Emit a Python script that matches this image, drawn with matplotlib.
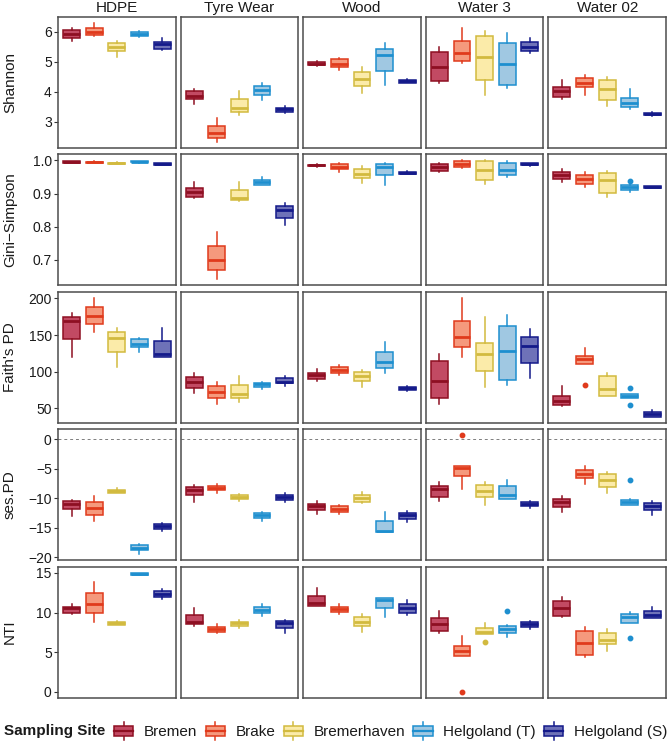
import matplotlib
matplotlib.use("Agg")
import matplotlib.pyplot as plt
import matplotlib.patches as mpatches
from matplotlib.legend_handler import HandlerBase
from matplotlib.lines import Line2D

# ── DATA (lo whisker, q1, median, q3, hi whisker) per site, per material ──
materials = ["HDPE", "Tyre Wear", "Wood", "Water 3", "Water 02"]
sites = ["Bremen", "Brake", "Bremerhaven", "Helgoland (T)", "Helgoland (S)"]
edge_colors = ["#8E0F22", "#E03A1C", "#D2BA3F", "#1E8FCF", "#141A8A"]
fill_colors = ["#C24A63", "#F5997D", "#FBEBA9", "#A0C8E2", "#6E72B8"]

shannon = [
    [(5.69, 5.80, 5.93, 6.05, 6.13), (5.85, 5.89, 6.00, 6.12, 6.30), (5.17, 5.35, 5.49, 5.63, 5.69),
     (5.83, 5.85, 5.93, 6.00, 6.03), (5.38, 5.43, 5.58, 5.68, 5.81)],
    [(3.59, 3.77, 3.87, 4.02, 4.08), (2.32, 2.44, 2.61, 2.85, 3.11), (3.24, 3.34, 3.47, 3.77, 4.03),
     (3.71, 3.89, 4.07, 4.20, 4.30), (3.30, 3.32, 3.41, 3.47, 3.51)],
    [(4.87, 4.88, 4.93, 4.99, 5.02), (4.72, 4.83, 4.93, 5.08, 5.13), (3.97, 4.20, 4.44, 4.67, 4.83),
     (4.21, 4.71, 5.22, 5.44, 5.63), (4.28, 4.31, 4.36, 4.41, 4.43)],
    [(4.30, 4.35, 4.84, 5.33, 5.49), (4.97, 5.04, 5.30, 5.69, 6.14), (3.89, 4.38, 5.17, 5.88, 6.03),
     (4.13, 4.23, 4.94, 5.63, 5.98), (5.30, 5.35, 5.49, 5.65, 5.80)],
    [(3.77, 3.83, 4.03, 4.15, 4.41), (3.89, 4.17, 4.31, 4.45, 4.57), (3.52, 3.71, 4.08, 4.40, 4.50),
     (3.41, 3.50, 3.62, 3.78, 4.08), (3.20, 3.21, 3.25, 3.30, 3.32)],
]

gini = [
    [(0.991, 0.993, 0.995, 0.997, 0.998), (0.992, 0.993, 0.994, 0.996, 0.997), (0.988, 0.989, 0.991, 0.993, 0.994),
     (0.993, 0.994, 0.995, 0.997, 0.998), (0.986, 0.987, 0.989, 0.991, 0.992)],
    [(0.888, 0.890, 0.905, 0.916, 0.935), (0.641, 0.668, 0.700, 0.743, 0.783), (0.878, 0.880, 0.888, 0.910, 0.935),
     (0.925, 0.926, 0.935, 0.942, 0.950), (0.805, 0.827, 0.850, 0.861, 0.870)],
    [(0.981, 0.983, 0.985, 0.987, 0.988), (0.966, 0.973, 0.980, 0.988, 0.991), (0.933, 0.946, 0.960, 0.973, 0.983),
     (0.925, 0.955, 0.981, 0.990, 0.993), (0.958, 0.959, 0.962, 0.966, 0.967)],
    [(0.965, 0.968, 0.979, 0.990, 0.993), (0.978, 0.981, 0.989, 0.997, 1.000), (0.928, 0.940, 0.970, 0.998, 1.000),
     (0.951, 0.955, 0.972, 0.991, 0.997), (0.984, 0.985, 0.988, 0.991, 0.992)],
    [(0.935, 0.943, 0.955, 0.965, 0.973), (0.920, 0.930, 0.945, 0.956, 0.966), (0.890, 0.901, 0.940, 0.963, 0.968),
     (0.906, 0.912, 0.921, 0.927, 0.929), (0.917, 0.918, 0.921, 0.923, 0.924)],
]

faith = [
    [(119.7, 144.2, 169.1, 175.0, 180.4), (154.6, 164.6, 175.9, 187.8, 200.0), (107.0, 126.5, 146.4, 153.7, 159.2),
     (126.5, 133.3, 137.4, 144.2, 145.6), (119.7, 120.6, 123.8, 141.9, 160.0)],
    [(70.7, 77.5, 86.5, 93.3, 98.0), (56.0, 64.0, 73.0, 80.7, 86.5), (59.3, 64.0, 69.4, 82.0, 94.7),
     (77.0, 79.8, 83.0, 85.2, 86.5), (81.0, 84.3, 86.5, 92.0, 94.0)],
    [(87.9, 89.8, 95.6, 98.8, 103.8), (95.6, 98.8, 102.4, 106.1, 108.8), (79.8, 87.5, 94.3, 99.3, 102.4),
     (98.8, 105.6, 113.0, 127.4, 141.0), (74.0, 75.2, 77.5, 79.8, 80.5)],
    [(55.8, 64.8, 87.9, 114.7, 124.2), (120.6, 134.2, 146.9, 169.1, 200.8), (79.8, 101.1, 124.2, 138.8, 175.0),
     (82.0, 88.6, 128.3, 162.7, 177.3), (91.2, 112.4, 135.1, 146.9, 157.8)],
    [(53.4, 54.8, 60.7, 67.0, 80.7), (110.6, 110.6, 117.0, 121.9, 132.0), (67.5, 67.5, 76.6, 94.7, 98.8),
     (64.8, 64.8, 67.5, 69.8, 69.8), (38.5, 38.5, 41.8, 45.0, 48.0)],
]

ses_pd = [
    [(-13.1, -11.9, -11.06, -10.5, -10.3), (-13.9, -12.8, -11.6, -10.67, -9.66), (-9.2, -9.15, -8.85, -8.54, -8.2),
     (-19.5, -18.8, -18.4, -17.96, -17.8), (-15.6, -15.2, -14.8, -14.37, -14.2)],
    [(-10.67, -9.43, -8.59, -8.03, -7.8), (-9.1, -8.7, -8.3, -7.86, -7.6), (-10.4, -10.2, -9.8, -9.43, -9.3),
     (-13.9, -13.4, -12.9, -12.5, -12.3), (-10.6, -10.27, -9.8, -9.43, -9.2)],
    [(-12.7, -12.07, -11.4, -10.95, -10.4), (-12.6, -12.4, -11.85, -11.4, -11.1), (-10.8, -10.67, -10.0, -9.55, -9.0),
     (-15.8, -15.8, -15.55, -13.9, -12.35), (-14.1, -13.6, -12.9, -12.5, -12.2)],
    [(-10.4, -9.8, -8.4, -7.86, -7.3), (-8.4, -6.2, -4.9, -4.5, -4.5), (-11.1, -9.8, -8.87, -7.7, -7.3),
     (-10.2, -10.1, -9.4, -7.86, -6.9), (-11.7, -11.4, -11.0, -10.67, -10.5)],
    [(-12.35, -11.5, -10.7, -10.1, -9.7), (-7.6, -6.6, -5.9, -5.17, -4.5), (-9.15, -8.03, -6.85, -5.9, -5.6),
     (-11.2, -11.1, -10.6, -10.27, -10.2), (-12.8, -11.95, -11.4, -10.8, -10.5)],
]

nti = [
    [(9.8, 9.97, 10.52, 10.72, 11.1), (8.84, 9.97, 11.06, 12.48, 13.87), (8.42, 8.45, 8.63, 8.84, 8.9),
     (14.7, 14.75, 14.85, 15.0, 15.05), (11.7, 11.98, 12.4, 12.74, 13.0)],
    [(8.35, 8.55, 8.84, 9.68, 10.52), (7.45, 7.58, 7.88, 8.2, 8.5), (8.1, 8.3, 8.63, 8.84, 9.05),
     (9.55, 9.97, 10.3, 10.72, 11.1), (7.45, 8.1, 8.63, 8.93, 9.05)],
    [(10.8, 10.8, 11.23, 12.1, 13.15), (9.85, 10.05, 10.4, 10.72, 11.1), (7.58, 8.3, 8.84, 9.47, 9.8),
     (9.4, 10.6, 11.57, 11.9, 11.9), (9.68, 9.97, 10.52, 11.06, 11.65)],
    [(7.37, 7.7, 8.55, 9.26, 10.18), (4.56, 4.56, 5.19, 5.78, 7.04), (7.25, 7.25, 7.58, 8.0, 8.63),
     (6.87, 7.45, 7.88, 8.33, 8.4), (7.98, 8.2, 8.55, 8.84, 8.93)],
    [(9.4, 9.59, 10.63, 11.48, 11.98), (4.4, 4.64, 6.12, 7.67, 8.2), (5.19, 5.99, 6.53, 7.37, 7.98),
     (8.71, 8.71, 9.4, 9.77, 10.1), (9.26, 9.26, 9.68, 10.18, 10.72)],
]

# (metric, material, site, value)
outliers = [
    ("Gini−Simpson", "Water 02", "Helgoland (T)", 0.938),
    ("Faith's PD", "Water 02", "Brake", 82.0),
    ("Faith's PD", "Water 02", "Helgoland (T)", 77.5),
    ("Faith's PD", "Water 02", "Helgoland (T)", 54.8),
    ("ses.PD", "Water 3", "Brake", 0.67),
    ("ses.PD", "Water 02", "Helgoland (T)", -6.9),
    ("NTI", "Water 3", "Brake", 0.03),
    ("NTI", "Water 3", "Bremerhaven", 6.24),
    ("NTI", "Water 3", "Helgoland (T)", 10.14),
    ("NTI", "Water 02", "Helgoland (T)", 6.74),
]

metrics = ["Shannon", "Gini−Simpson", "Faith's PD", "ses.PD", "NTI"]
metric_data = [shannon, gini, faith, ses_pd, nti]
yticks = [[3, 4, 5, 6], [0.7, 0.8, 0.9, 1.0], [50, 100, 150, 200], [-20, -15, -10, -5, 0], [0, 5, 10, 15]]
ytick_labels = [["3", "4", "5", "6"], ["0.7", "0.8", "0.9", "1.0"], ["50", "100", "150", "200"],
                ["\u221220", "\u221215", "\u221210", "\u22125", "0"], ["0", "5", "10", "15"]]

# ── LAYOUT ──
plt.rcParams['font.family'] = ['Liberation Sans', 'DejaVu Sans']
W, H = 672, 743
fig = plt.figure(figsize=(W / 100, H / 100), dpi=100)

left0, top0 = 58, 17
panel_w, panel_h = 117.6, 131
gap_x, gap_y = 5.0, 6.4
frame_col = "#4D4D4D"


def px_rect(x, y, w, h):
    return [x / W, 1 - (y + h) / H, w / W, h / H]


for r, metric in enumerate(metrics):
    data = metric_data[r]
    vals = [v for mat in data for box in mat for v in box]
    vals += [o[3] for o in outliers if o[0] == metric]
    lo, hi = min(vals), max(vals)
    pad = 0.05 * (hi - lo)
    y_top = top0 + r * (panel_h + gap_y)

    for c, mat in enumerate(materials):
        x_left = left0 + c * (panel_w + gap_x)
        ax = fig.add_axes(px_rect(x_left, y_top, panel_w, panel_h))

        stats = []
        for s, site in enumerate(sites):
            wl, q1, med, q3, wh = data[c][s]
            fl = [o[3] for o in outliers if o[0] == metric and o[1] == mat and o[2] == site]
            stats.append(dict(whislo=wl, q1=q1, med=med, q3=q3, whishi=wh, fliers=fl))

        if metric == "ses.PD":
            ax.axhline(0, color="#7F7F7F", lw=0.7, ls=(0, (3, 3)), zorder=0)

        bp = ax.bxp(stats, positions=range(1, 6), widths=0.75, patch_artist=True,
                    showcaps=False, manage_ticks=False)
        for s in range(5):
            ec, fc = edge_colors[s], fill_colors[s]
            bp['boxes'][s].set_facecolor(fc)
            bp['boxes'][s].set_edgecolor(ec)
            bp['boxes'][s].set_linewidth(1.1)
            bp['medians'][s].set_color(ec)
            bp['medians'][s].set_linewidth(2.0)
            bp['medians'][s].set_solid_capstyle('butt')
            for w in bp['whiskers'][2 * s:2 * s + 2]:
                w.set_color(ec)
                w.set_linewidth(1.1)
            bp['fliers'][s].set(marker='o', markersize=3.2, markerfacecolor=ec,
                                markeredgecolor=ec, linestyle='none')

        ax.set_xlim(0.4, 5.6)
        ax.set_ylim(lo - pad, hi + pad)
        ax.set_xticks([])
        ax.set_yticks(yticks[r])
        if c == 0:
            ax.set_yticklabels(ytick_labels[r])
            ax.tick_params(axis='y', length=3, width=0.8, color="#333333", labelsize=10,
                           labelcolor="#1A1A1A", pad=1.5)
        else:
            ax.tick_params(axis='y', length=0, labelleft=False)
        for sp in ax.spines.values():
            sp.set_color(frame_col)
            sp.set_linewidth(1.1)

        if r == 0:
            fig.text((x_left + panel_w / 2) / W, 1 - 8 / H, mat, ha='center', va='center',
                     fontsize=11, color="#1A1A1A")

    fig.text(10 / W, 1 - (y_top + panel_h / 2) / H, metric, rotation=90, ha='center',
             va='center', fontsize=11, color="#1A1A1A")


# ── LEGEND ──
class BoxKey(HandlerBase):
    def create_artists(self, legend, orig_handle, xdescent, ydescent, width, height, fontsize, trans):
        ec, fc = orig_handle.get_edgecolor(), orig_handle.get_facecolor()
        x0, y0 = -xdescent, -ydescent
        cx = x0 + width / 2
        box = mpatches.Rectangle((x0, y0 + height * 0.2), width, height * 0.6,
                                 facecolor=fc, edgecolor=ec, lw=1.1, transform=trans)
        med = Line2D([x0, x0 + width], [y0 + height * 0.5] * 2, color=ec, lw=1.6, transform=trans)
        w1 = Line2D([cx, cx], [y0 - height * 0.05, y0 + height * 0.2], color=ec, lw=1.1, transform=trans)
        w2 = Line2D([cx, cx], [y0 + height * 0.8, y0 + height * 1.05], color=ec, lw=1.1, transform=trans)
        return [w1, w2, box, med]


handles = [mpatches.Patch(facecolor=fc, edgecolor=ec) for ec, fc in zip(edge_colors, fill_colors)]
fig.text(4 / W, 1 - 731 / H, "Sampling Site", ha='left', va='center', fontsize=11,
         fontweight='bold', color="#1A1A1A")
fig.legend(handles, sites, handler_map={mpatches.Patch: BoxKey()}, ncol=5, loc='center left',
           bbox_to_anchor=(114 / W, 1 - 731 / H), frameon=False, fontsize=11,
           handlelength=1.25, handleheight=1.3, handletextpad=0.7, columnspacing=0.55,
           borderpad=0, borderaxespad=0, labelcolor="#1A1A1A")

fig.savefig("out.png", dpi=100)
